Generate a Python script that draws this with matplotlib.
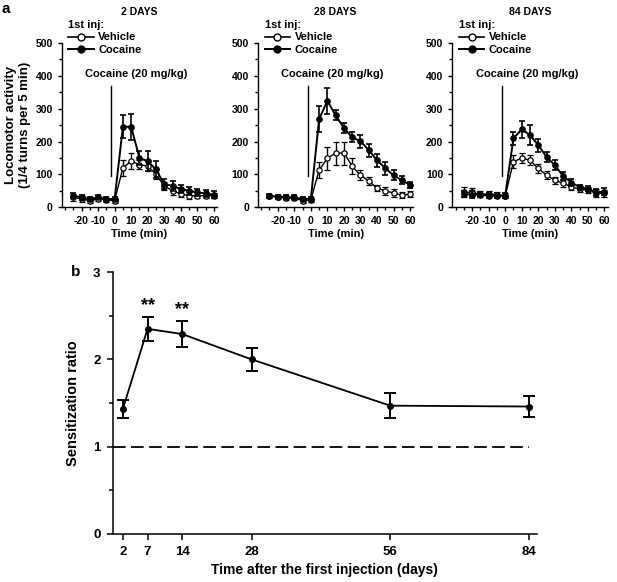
import numpy as np
import matplotlib
matplotlib.use('Agg')
import matplotlib.pyplot as plt
from matplotlib.ticker import MultipleLocator
from matplotlib.lines import Line2D

plt.rcParams['font.family'] = ['Liberation Sans', 'DejaVu Sans']
plt.rcParams['font.weight'] = 'bold'
plt.rcParams['axes.labelweight'] = 'bold'
plt.rcParams['axes.unicode_minus'] = False

# Panel a: locomotor activity time course
#-------------------------------------------------
time_min = [-25, -20, -15, -10, -5, 0, 5, 10, 15, 20, 25, 30, 35, 40, 45, 50, 55, 60]
panel_titles = ['2 DAYS', '28 DAYS', '84 DAYS']

veh_2d = [30, 25, 20, 25, 22, 20, 120, 140, 130, 125, 100, 65, 50, 40, 35, 35, 35, 35]
veh_2d_err = [10, 8, 8, 6, 6, 6, 25, 25, 15, 15, 15, 12, 12, 10, 10, 8, 8, 8]
coc_2d = [35, 30, 25, 30, 25, 25, 245, 245, 150, 140, 115, 70, 65, 55, 50, 45, 42, 38]
coc_2d_err = [8, 8, 6, 6, 6, 6, 35, 40, 20, 30, 25, 15, 15, 12, 12, 10, 10, 10]

veh_28d = [35, 30, 28, 28, 20, 22, 113, 149, 165, 165, 125, 97, 80, 58, 50, 43, 37, 40]
veh_28d_err = [6, 6, 6, 6, 6, 6, 25, 35, 35, 35, 25, 15, 12, 10, 12, 12, 10, 10]
coc_28d = [35, 32, 30, 30, 25, 25, 268, 324, 280, 241, 213, 201, 174, 143, 119, 97, 82, 68]
coc_28d_err = [6, 6, 6, 6, 6, 6, 40, 40, 15, 15, 15, 20, 20, 20, 20, 15, 12, 10]

veh_84d = [45, 45, 40, 40, 38, 35, 138, 150, 143, 118, 98, 82, 73, 62, 55, 52, 42, 42]
veh_84d_err = [15, 12, 10, 10, 8, 8, 20, 15, 15, 15, 12, 10, 10, 10, 8, 8, 12, 10]
coc_84d = [40, 38, 38, 35, 35, 35, 210, 237, 220, 189, 153, 128, 95, 75, 61, 56, 45, 47]
coc_84d_err = [10, 10, 8, 8, 8, 8, 20, 25, 30, 20, 15, 15, 12, 10, 8, 8, 10, 10]

vehicle = [veh_2d, veh_28d, veh_84d]
vehicle_err = [veh_2d_err, veh_28d_err, veh_84d_err]
cocaine = [coc_2d, coc_28d, coc_84d]
cocaine_err = [coc_2d_err, coc_28d_err, coc_84d_err]

# Panel b: sensitization ratio
#-------------------------------------------------
days = [2, 7, 14, 28, 56, 84]
ratio = [1.43, 2.35, 2.29, 2.00, 1.47, 1.46]
ratio_err = [0.10, 0.14, 0.15, 0.135, 0.14, 0.125]
signif = ['', '**', '**', '', '', '']

fig = plt.figure(figsize=(6.17, 5.82), dpi=100, facecolor='w')

handles = [Line2D([], [], color='k', lw=1.2, marker='o', ms=5, mfc='w', mec='k', mew=1.0),
           Line2D([], [], color='k', lw=1.4, marker='o', ms=5, mfc='k', mec='k')]

lefts = [0.100, 0.418, 0.733]
for i in range(3):
    ax = fig.add_axes([lefts[i], 0.644, 0.252, 0.282])
    ax.errorbar(time_min, vehicle[i], yerr=vehicle_err[i], color='k', lw=1.0,
                elinewidth=1.0, capsize=2.5, capthick=1.0, marker='o', ms=3.8,
                mfc='w', mec='k', mew=0.9, zorder=3)
    ax.errorbar(time_min, cocaine[i], yerr=cocaine_err[i], color='k', lw=1.4,
                elinewidth=1.2, capsize=2.5, capthick=1.2, marker='o', ms=3.8,
                mfc='k', mec='k', zorder=4)
    ax.plot([-2, -2], [95, 370], color='k', lw=1.0)
    ax.text(13, 405, 'Cocaine (20 mg/kg)', ha='center', va='center', fontsize=8)
    ax.set_xlim(-32, 62)
    ax.set_ylim(0, 500)
    ax.set_xticks([-20, -10, 0, 10, 20, 30, 40, 50, 60])
    ax.xaxis.set_minor_locator(MultipleLocator(5))
    ax.yaxis.set_major_locator(MultipleLocator(100))
    ax.yaxis.set_minor_locator(MultipleLocator(50))
    ax.tick_params(which='both', direction='out', labelsize=7.5, width=1.0)
    ax.tick_params(which='major', length=3)
    ax.tick_params(which='minor', length=2)
    ax.spines['top'].set_visible(False)
    ax.spines['right'].set_visible(False)
    ax.spines['left'].set_linewidth(1.0)
    ax.spines['bottom'].set_linewidth(1.0)
    for lab in ax.get_xticklabels() + ax.get_yticklabels():
        lab.set_fontweight('bold')
    ax.set_xlabel('Time (min)', fontsize=8, labelpad=2)
    ax.text(0.5, 1.19, panel_titles[i], transform=ax.transAxes, ha='center',
            va='center', fontsize=7.5, fontweight='bold')
    leg = ax.legend(handles, ['Vehicle', 'Cocaine'], loc='upper left',
                    bbox_to_anchor=(0.0, 1.18), frameon=False,
                    fontsize=8, title='1st inj:', title_fontsize=8, alignment='left',
                    handlelength=2.3, handletextpad=0.4, borderpad=0.1, labelspacing=0.2)
    leg.get_title().set_fontweight('bold')
    if i == 0:
        ax.set_ylabel('Locomotor activity\n(1/4 turns per 5 min)', fontsize=9.5, labelpad=3)

fig.text(0.003, 0.997, 'a', fontsize=11, fontweight='bold', va='top')

axb = fig.add_axes([0.183, 0.0825, 0.687, 0.450])
axb.errorbar(days, ratio, yerr=ratio_err, color='k', lw=1.3, elinewidth=1.4,
             capsize=4.5, capthick=1.4, marker='o', ms=4, mfc='k')
for d, r, e, s in zip(days, ratio, ratio_err, signif):
    if s:
        axb.text(d, r + e + 0.03, s, ha='center', va='bottom', fontsize=13)
axb.plot([0, 84], [1, 1], color='k', lw=1.3, ls=(0, (7, 3)))
axb.set_xlim(0, 85.6)
axb.set_ylim(0, 3)
axb.set_xticks(days)
axb.yaxis.set_major_locator(MultipleLocator(1))
axb.yaxis.set_minor_locator(MultipleLocator(0.5))
axb.tick_params(which='both', direction='out', labelsize=9.5, width=1.1)
axb.tick_params(axis='x', pad=5)
axb.tick_params(axis='y', pad=5)
axb.tick_params(which='major', length=4)
axb.tick_params(which='minor', length=3)
axb.spines['top'].set_visible(False)
axb.spines['right'].set_visible(False)
axb.spines['left'].set_linewidth(1.1)
axb.spines['bottom'].set_linewidth(1.1)
for lab in axb.get_xticklabels() + axb.get_yticklabels():
    lab.set_fontweight('bold')
axb.set_xlabel('Time after the first injection (days)', fontsize=10, labelpad=3)
axb.set_ylabel('Sensitization ratio', fontsize=10.5, labelpad=9)
fig.text(0.115, 0.545, 'b', fontsize=11, fontweight='bold', va='top')

fig.savefig('out.png', dpi=100)
